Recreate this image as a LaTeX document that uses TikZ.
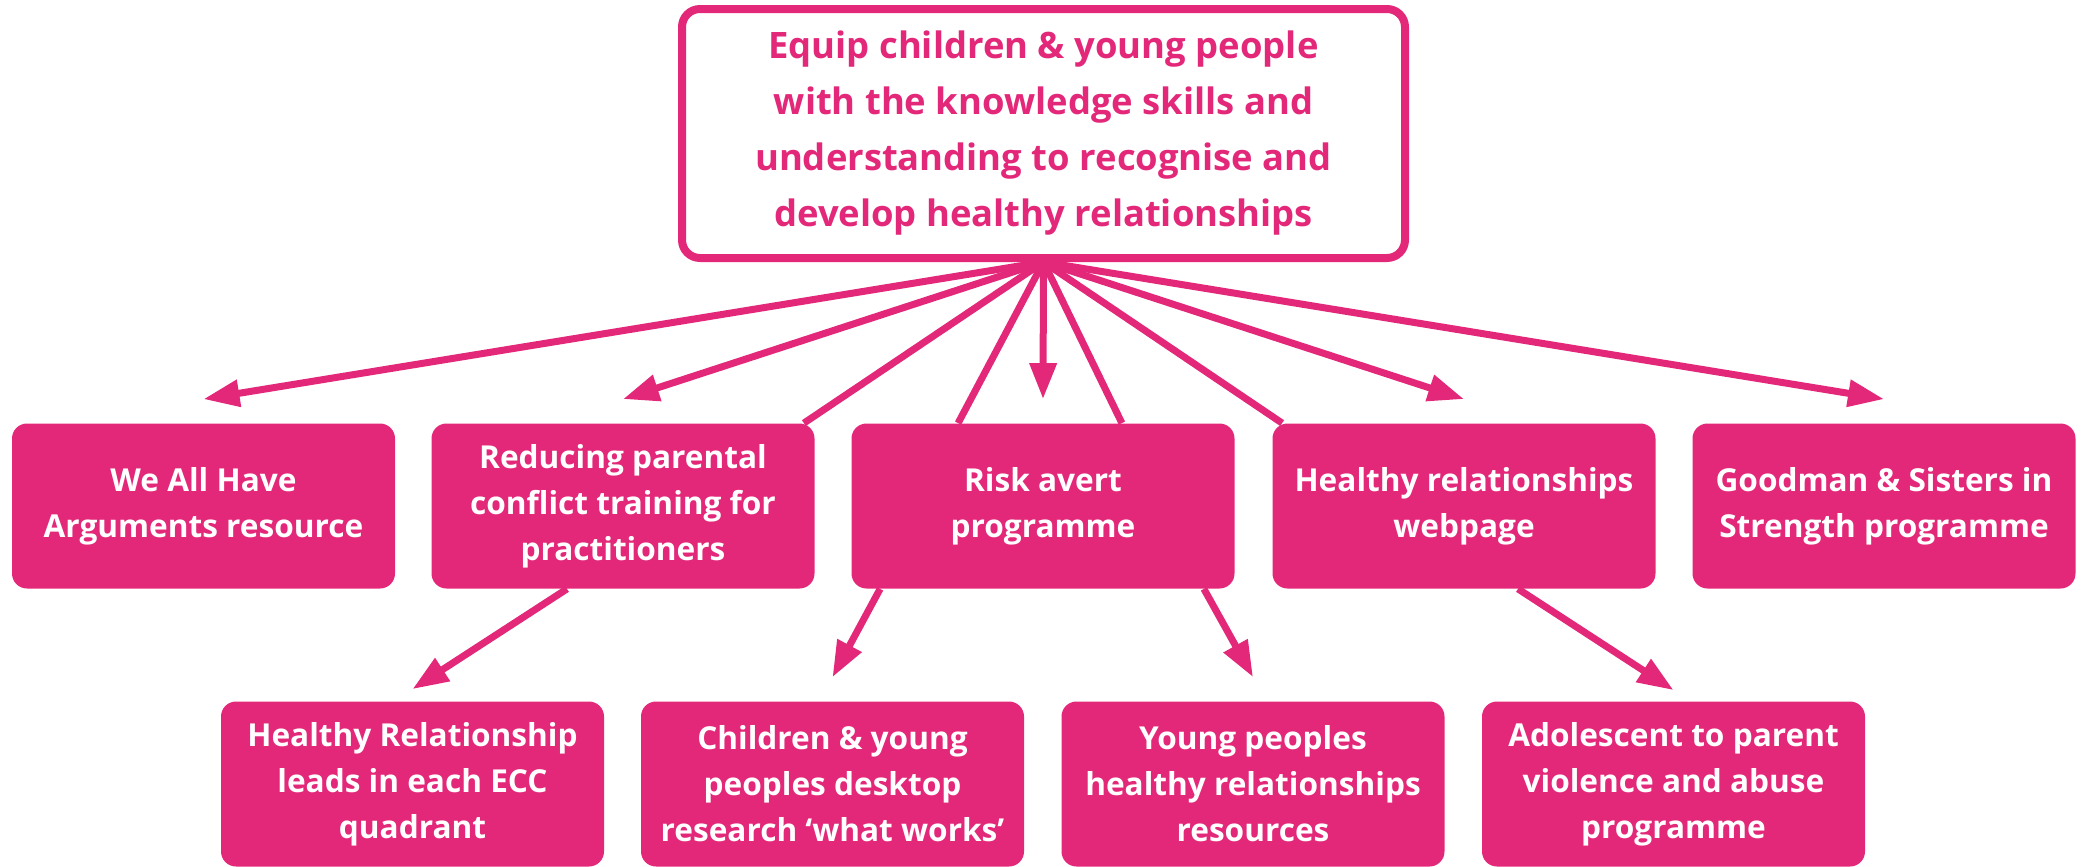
\documentclass[tikz,border=0pt]{standalone}
\usepackage{fontspec}
\setmainfont{Open Sans}
\usetikzlibrary{arrows.meta}
\definecolor{eccpink}{HTML}{E3287A}
\tikzset{
	aimbox/.style={draw=eccpink, line width=4pt, rounded corners=9pt, fill=white, text=eccpink,
		font=\bfseries\fontsize{18.2}{28}\selectfont, align=center,
		minimum width=361.5pt, minimum height=124.5pt, inner sep=0pt},
	strand/.style={fill=eccpink, rounded corners=7.5pt, text=white,
		font=\bfseries\fontsize{15.8}{23}\selectfont, align=center,
		minimum width=191.5pt, minimum height=82.5pt, inner sep=0pt},
	feed/.style={draw=eccpink, line width=3.5pt},
	feedarrow/.style={feed, -{Triangle[length=18pt,width=13pt]}}
}

\begin{document}
\begin{tikzpicture}[x=0.5pt, y=-0.5pt]
			%%%%% START %%%%%
			\useasboundingbox (0,0) rectangle (2089,867);
			
			\node[aimbox] (aim) at (1043.5,133.5) {Equip children \& young people\\with the knowledge skills and\\understanding to recognise and\\develop healthy relationships};
			
			% first row
			\node[strand] (argue) at (203.5,506) {We All Have\\Arguments resource};
			\node[strand] (rpc) at (623,506) {Reducing parental\\conflict training for\\practitioners};
			\node[strand] (risk) at (1043,506) {Risk avert\\programme};
			\node[strand] (hrweb) at (1464,506) {Healthy relationships\\webpage};
			\node[strand] (goodman) at (1884,506) {Goodman \& Sisters in\\Strength programme};
			
			% second row
			\node[strand] (leads) at (412.5,784) {Healthy Relationship\\leads in each ECC\\quadrant};
			\node[strand] (desk) at (832.5,784) {Children \& young\\peoples desktop\\research ‘what works’};
			\node[strand] (ypres) at (1253,784) {Young peoples\\healthy relationships\\resources};
			\node[strand] (apva) at (1673.5,784) {Adolescent to parent\\violence and abuse\\programme};
			
			\coordinate (hub) at (aim.south);
			\draw[feedarrow] (hub) -- ([yshift=12pt]argue.north);
			\draw[feedarrow] (hub) -- ([yshift=12pt]rpc.north);
			\draw[feed] (hub) -- ([xshift=-5.5pt]rpc.north east);
			\draw[feed] (hub) -- ([xshift=53.5pt]risk.north west);
			\draw[feedarrow] (hub) -- ([yshift=12pt]risk.north);
			\draw[feed] (hub) -- ([xshift=-56.5pt]risk.north east);
			\draw[feed] (hub) -- ([xshift=5pt]hrweb.north west);
			\draw[feedarrow] (hub) -- ([yshift=12pt]hrweb.north);
			\draw[feedarrow] (hub) -- ([yshift=12pt]goodman.north);
			
			\draw[feedarrow] ([xshift=-28pt]rpc.south) -- ([yshift=6pt]leads.north);
			\draw[feedarrow] ([xshift=14.5pt]risk.south west) -- ([yshift=12pt]desk.north);
			\draw[feedarrow] ([xshift=-15.5pt]risk.south east) -- ([yshift=12pt]ypres.north);
			\draw[feedarrow] ([xshift=27pt]hrweb.south) -- ([yshift=5.5pt]apva.north);
			
			%%%%% END %%%%%
\end{tikzpicture}
\end{document}
